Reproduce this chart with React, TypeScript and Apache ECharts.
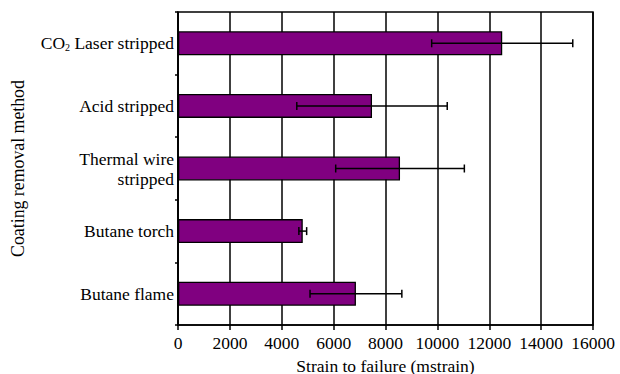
import React, { useEffect, useRef } from "react";
import * as echarts from "echarts";

const categories = [
  "CO₂ Laser stripped",
  "Acid stripped",
  "Thermal wire\nstripped",
  "Butane torch",
  "Butane flame",
];
const means = [12500, 7480, 8560, 4810, 6860];
const errors = [2720, 2900, 2480, 150, 1770];
const xTicks = { min: 0, max: 16000, interval: 2000 };

const FONT = "Liberation Serif";

export default function App() {
  const ref = useRef<HTMLDivElement>(null);
  useEffect(() => {
    if (!ref.current) return;
    const chart = echarts.init(ref.current, undefined, { renderer: "svg" });
    const errData = means.map((m, i) => [m - errors[i], m + errors[i], i]);
    chart.setOption({
      animation: false,
      backgroundColor: "#ffffff",
      grid: {
        left: 178,
        right: 27,
        top: 12,
        bottom: 49,
        show: true,
        borderColor: "#000",
        borderWidth: 1.5,
        backgroundColor: "transparent",
        containLabel: false,
        outerBoundsMode: "none",
      },
      xAxis: {
        type: "value",
        min: xTicks.min,
        max: xTicks.max,
        interval: xTicks.interval,
        name: "Strain to failure (mstrain)",
        nameLocation: "middle",
        nameGap: 26,
        nameTextStyle: { fontFamily: FONT, fontSize: 17.5, color: "#000", lineHeight: 17 },
        axisLine: { show: true, lineStyle: { color: "#000", width: 1.5 } },
        axisTick: { show: true, length: 5, lineStyle: { color: "#000", width: 1.5 } },
        axisLabel: {
          fontFamily: FONT,
          fontSize: 17.5,
          color: "#000",
          margin: 9,
          formatter: (v: number) => String(v),
        },
        splitLine: { show: true, lineStyle: { color: "#000", width: 1.5 } },
      },
      yAxis: {
        type: "category",
        data: categories,
        inverse: true,
        name: "Coating removal method",
        nameLocation: "middle",
        nameRotate: 90,
        nameGap: 151,
        nameTextStyle: { fontFamily: FONT, fontSize: 17.8, color: "#000" },
        axisLine: { show: true, lineStyle: { color: "#000", width: 1.5 } },
        axisTick: { show: true, length: 3, lineStyle: { color: "#000", width: 1.5 } },
        axisLabel: {
          fontFamily: FONT,
          fontSize: 17.5,
          color: "#000",
          margin: 4,
          lineHeight: 20,
          align: "right",
          formatter: (v: string) => {
            if (v.indexOf("₂") >= 0) {
              const parts = v.split("₂");
              return "{n|" + parts[0] + "}{s|2}{n|" + parts[1] + "}";
            }
            return v;
          },
          rich: {
            n: { fontFamily: FONT, fontSize: 17.5, color: "#000", lineHeight: 20 },
            s: {
              fontFamily: FONT,
              fontSize: 10,
              color: "#000",
              lineHeight: 20,
              padding: [9, 0, 0, 0],
            },
          },
        },
        splitLine: { show: false },
      },
      series: [
        {
          type: "bar",
          data: means,
          barWidth: 24,
          itemStyle: { color: "#800080", borderColor: "#000", borderWidth: 1.3 },
        },
        {
          type: "custom",
          data: errData,
          encode: { x: [0, 1], y: 2 },
          z: 10,
          renderItem: (params: any, api: any) => {
            const lo = api.value(0);
            const hi = api.value(1);
            const c = api.value(2);
            const p1 = api.coord([lo, c]);
            const p2 = api.coord([hi, c]);
            const h = 4;
            const style = { stroke: "#000", lineWidth: 1.5 };
            return {
              type: "group",
              children: [
                { type: "line", shape: { x1: p1[0], y1: p1[1], x2: p2[0], y2: p2[1] }, style },
                { type: "line", shape: { x1: p1[0], y1: p1[1] - h, x2: p1[0], y2: p1[1] + h }, style },
                { type: "line", shape: { x1: p2[0], y1: p2[1] - h, x2: p2[0], y2: p2[1] + h }, style },
              ],
            };
          },
        },
      ],
    });
    return () => chart.dispose();
  }, []);
  return (
    <div
      ref={ref}
      style={{ position: "fixed", left: 0, top: 0, width: 620, height: 374, background: "#fff" }}
    />
  );
}
